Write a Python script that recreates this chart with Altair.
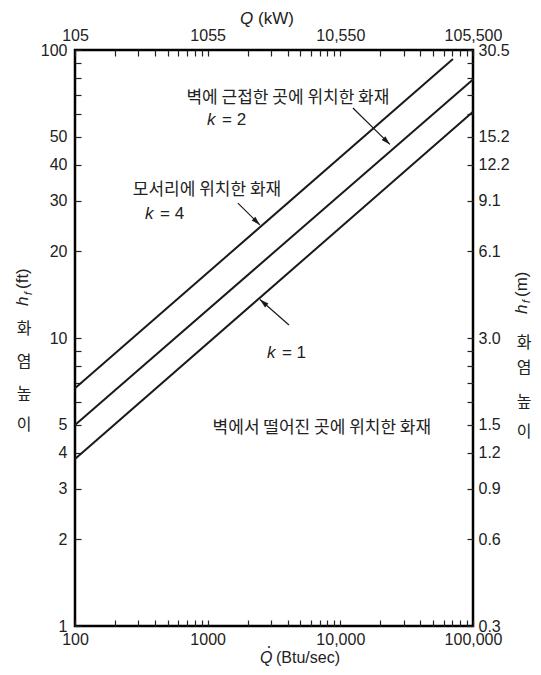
import math
import altair as alt
import pandas as pd

# ---------------- data ----------------
k_values = [4, 2, 1]
line_q_start = [100, 100, 100]          # Btu/sec
line_h_start = [6.69, 4.99, 3.80]       # ft
line_q_end = [70600, 100000, 100000]
line_h_end = [93.0, 79.0, 61.0]

x_ticks = [100, 200, 300, 400, 500, 600, 700, 800, 900,
           1000, 2000, 3000, 4000, 5000, 6000, 7000, 8000, 9000,
           10000, 20000, 30000, 40000, 50000, 60000, 70000, 80000, 90000, 100000]
x_major = [100, 1000, 10000, 100000]
x_bottom_labels = ["100", "1000", "10,000", "100,000"]
x_top_labels = ["105", "1055", "10,550", "105,500"]

y_ticks = [1, 2, 3, 4, 5, 6, 7, 8, 9, 10, 20, 30, 40, 50, 60, 70, 80, 90, 100]
y_major = [1, 2, 3, 4, 5, 10, 20, 30, 40, 50, 100]
y_left_labels = ["1", "2", "3", "4", "5", "10", "20", "30", "40", "50", "100"]
y_right_labels = ["0.3", "0.6", "0.9", "1.2", "1.5", "3.0", "6.1", "9.1", "12.2", "15.2", "30.5"]

ann_text = ["벽에 근접한 곳에 위치한 화재", "모서리에 위치한 화재", "벽에서 떨어진 곳에 위치한 화재"]
ann_q = [4027, 989, 7260]
ann_h = [68.2, 32.6, 4.87]

k_label_text = ["= 2", "= 4", "= 1"]
k_label_q = [989, 337, 2799]
k_label_h = [57.0, 27.0, 8.87]

arrow_q_start = [12440, 4100, 1690]
arrow_h_start = [62.9, 11.1, 29.4]
arrow_q_end = [23650, 2477, 2477]
arrow_h_end = [47.0, 13.6, 24.7]

# ---------------- layout ----------------
W, H = 398, 576
LATIN = "Liberation Sans"
KOR = "Noto Sans CJK KR"
INK = "#1a1a1a"


def label_expr(values, labels):
    parts = [f"abs(datum.value - {v}) < {v * 1e-6} ? '{l}'" for v, l in zip(values, labels)]
    return " : ".join(parts) + " : ''"


xs = alt.Scale(type="log", domain=[100, 100000], nice=False)
ys = alt.Scale(type="log", domain=[1, 100], nice=False)

common_axis = dict(title=None, domain=False, grid=False, tickSize=6, offset=-6,
                   labelFlush=False, labelOverlap=False, labelFont=LATIN,
                   labelFontSize=16, labelColor="#222", tickColor="#222", tickWidth=1.2)

ax_bottom = alt.Axis(orient="bottom", values=x_ticks, labelExpr=label_expr(x_major, x_bottom_labels),
                     labelPadding=5, **common_axis)
ax_top = alt.Axis(orient="top", values=x_ticks, labelExpr=label_expr(x_major, x_top_labels),
                  labelPadding=7, **common_axis)
ax_left = alt.Axis(orient="left", values=y_ticks, labelExpr=label_expr(y_major, y_left_labels),
                   labelPadding=8, **common_axis)
ax_right = alt.Axis(orient="right", values=y_ticks, labelExpr=label_expr(y_major, y_right_labels),
                    labelPadding=5, **common_axis)

rows = []
for k, qs, hs, qe, he in zip(k_values, line_q_start, line_h_start, line_q_end, line_h_end):
    rows.append({"k": k, "q": qs, "h": hs, "o": 0})
    rows.append({"k": k, "q": qe, "h": he, "o": 1})
lines_df = pd.DataFrame(rows)

lines = alt.Chart(lines_df).mark_line(color=INK, strokeWidth=2).encode(
    x=alt.X("q:Q", scale=xs, axis=ax_bottom),
    y=alt.Y("h:Q", scale=ys, axis=ax_left),
    detail="k:N", order="o:Q",
)
lines_top = alt.Chart(lines_df).mark_line(strokeOpacity=0).encode(
    x=alt.X("q:Q", scale=xs, axis=ax_top),
    y=alt.Y("h:Q", scale=ys, axis=ax_right),
    detail="k:N", order="o:Q",
)

ann_df = pd.DataFrame({"t": ann_text, "q": ann_q, "h": ann_h})
ann = alt.Chart(ann_df).mark_text(font=KOR, fontSize=17, color="#222", align="center",
                                  baseline="middle").encode(
    x=alt.X("q:Q", scale=xs, axis=None), y=alt.Y("h:Q", scale=ys, axis=None), text="t:N")

kl_df = pd.DataFrame({"t": k_label_text, "q": k_label_q, "h": k_label_h})
k_it = alt.Chart(kl_df).mark_text(font=LATIN, fontSize=17, fontStyle="italic", color="#222",
                                  align="left", baseline="middle", text="k").encode(
    x=alt.X("q:Q", scale=xs, axis=None), y=alt.Y("h:Q", scale=ys, axis=None))
k_eq = alt.Chart(kl_df).mark_text(font=LATIN, fontSize=17, color="#222", align="left",
                                  baseline="middle", dx=15).encode(
    x=alt.X("q:Q", scale=xs, axis=None), y=alt.Y("h:Q", scale=ys, axis=None), text="t:N")


def px(q):
    return W * (math.log10(q) - 2) / 3


def py(h):
    return H * (1 - math.log10(h) / 2)


angles = []
for qs, hs, qe, he in zip(arrow_q_start, arrow_h_start, arrow_q_end, arrow_h_end):
    dx = px(qe) - px(qs)
    dy = py(he) - py(hs)
    angles.append(math.degrees(math.atan2(dx, -dy)) % 360)

arr_df = pd.DataFrame({"qs": arrow_q_start, "hs": arrow_h_start, "qe": arrow_q_end,
                       "he": arrow_h_end, "ang": angles})
shafts = alt.Chart(arr_df).mark_rule(color=INK, strokeWidth=1.2).encode(
    x=alt.X("qs:Q", scale=xs, axis=None), y=alt.Y("hs:Q", scale=ys, axis=None),
    x2="qe:Q", y2="he:Q")
heads = alt.Chart(arr_df).mark_point(shape="M0,0L-0.55,1.9L0.55,1.9Z", filled=True, color=INK,
                                     opacity=1, size=90).encode(
    x=alt.X("qe:Q", scale=xs, axis=None), y=alt.Y("he:Q", scale=ys, axis=None),
    angle=alt.Angle("ang:Q", scale=None))


def text_at(t, x, y, font=LATIN, size=16, style="normal", align="left", angle=0, baseline="middle"):
    kw = dict(text=t, font=font, fontSize=size, fontStyle=style, align=align,
              baseline=baseline, color="#222")
    if angle:
        kw["angle"] = angle
    return alt.Chart(pd.DataFrame({"a": [0]})).mark_text(**kw).encode(
        x=alt.value(x), y=alt.value(y))


titles = [
    text_at("Q", 165, -31, style="italic", size=17),
    text_at("(kW)", 183, -31, size=17),
    text_at("Q", 185, 608, style="italic", size=16),
    text_at("\u2022", 194, 597, size=7, align="center"),
    text_at("(Btu/sec)", 201, 608, size=16),
    # left title
    text_at("h", -52, 256, style="italic", size=17, angle=270),
    text_at("f", -46, 245, style="italic", size=11, angle=270),
    text_at("(ft)", -52, 239, size=17, angle=270),
    text_at("화", -51, 279, font=KOR, align="center"),
    text_at("염", -51, 312, font=KOR, align="center"),
    text_at("높", -51, 344, font=KOR, align="center"),
    text_at("이", -51, 375, font=KOR, align="center"),
    # right title
    text_at("h", 447, 264, style="italic", size=17, angle=270),
    text_at("f", 452, 253, style="italic", size=11, angle=270),
    text_at("(m)", 447, 247, size=17, angle=270),
    text_at("화", 449, 293, font=KOR, align="center"),
    text_at("염", 449, 318, font=KOR, align="center"),
    text_at("높", 449, 352, font=KOR, align="center"),
    text_at("이", 449, 382, font=KOR, align="center"),
]

chart = alt.layer(lines, lines_top, ann, k_it, k_eq, shafts, heads, *titles).resolve_scale(
    x="independent", y="independent"
).properties(
    width=W, height=H,
    padding={"left": 67, "top": 42, "right": 60, "bottom": 41},
    autosize=alt.AutoSizeParams(type="none"),
    background="white",
).configure_view(stroke="black", strokeWidth=2.5)

chart.save("out.html", embed_options={"renderer": "svg", "actions": False})
